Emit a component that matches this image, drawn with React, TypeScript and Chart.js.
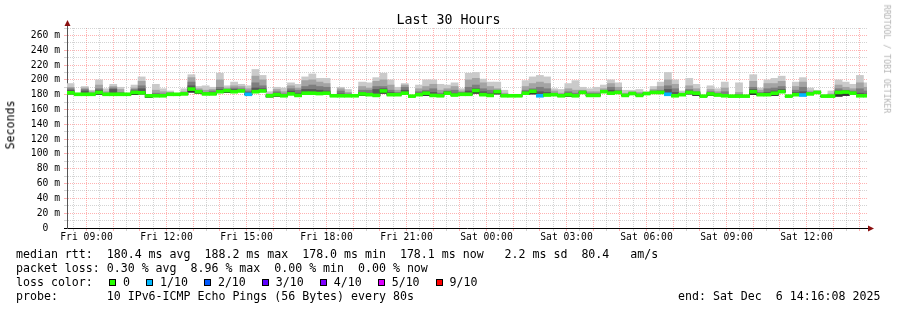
import React, { useEffect, useRef } from 'react';
import { Chart, registerables } from 'chart.js';

Chart.register(...registerables);

// ---- time frame: 30 hours ending Sat Dec 6 14:16:08 2025 ----
const startClockHours = 8 + 16 / 60 + 8 / 3600; // Fri 08:16:08
const spanHours = 30;
const stepSeconds = 960;

// ---- RTT values per 960 s step (ms) ----
const rttMax = [
  195, 182, 191, 186, 200, 188, 194, 190, 182, 193,
  204, 180, 194, 188, 185, 181, 188, 207, 191, 192,
  190, 209, 192, 197, 194, 192, 214, 206, 184, 190,
  189, 196, 194, 204, 208, 202, 202, 179, 190, 187,
  179, 197, 196, 203, 209, 200, 190, 195, 178.5, 193,
  200, 200, 194, 193, 196, 188, 209, 210, 201, 197,
  197, 186, 179, 179, 199, 204, 206, 204, 188, 187,
  195, 199, 190, 188, 190, 193, 200, 196, 186, 186,
  187, 184, 191, 197, 210, 200, 185, 202, 194, 178.5,
  192, 188, 197, 178.5, 196, 178.5, 207, 189, 200, 202,
  205, 178.5, 197, 203, 189, 186, 180, 185, 200, 197,
  194, 206, 196,
];
const rttP9 = [
  190, 181.5, 189, 184, 193, 184, 191, 187, 181, 189,
  198, 179.5, 186, 184, 183, 181, 184, 203, 188, 186,
  187, 200, 189, 192, 191, 188, 205, 200, 181, 187,
  184, 192, 189, 199, 200, 197, 195, 179, 188, 183,
  178.5, 191, 189, 198, 200, 193, 186, 193, 178, 188,
  191, 194, 186, 188, 191, 185, 200, 202, 196, 191,
  188, 182, 178.5, 178.5, 191, 195, 197, 195, 185, 182,
  188, 186, 186, 184, 184, 188, 195, 190, 182, 184,
  183, 183, 187, 191, 200, 194, 182, 192, 188, 178,
  187, 184, 189, 178, 183, 178, 198, 186, 195, 195,
  198, 178, 191, 197, 185, 184, 179, 181, 193, 190,
  188, 196, 190,
];
const rttP8 = [
  188, 181, 187, 182, 188, 182, 189, 183, 181, 187,
  192, 179, 182, 181, 182, 181, 182, 197, 186, 183,
  185, 190, 187, 189, 188, 185, 196, 192, 180, 184,
  181, 188, 186, 191, 193, 191, 190, 178.5, 185, 181,
  178.5, 186, 186, 191, 191, 186, 183, 190, 178, 184,
  186, 188, 182, 185, 186, 183, 190, 193, 188, 186,
  186, 180, 178.5, 178.5, 186, 188, 190, 188, 182, 180,
  184, 182, 185, 182, 182, 185, 190, 186, 180, 183,
  181, 182.5, 185, 186, 192, 188, 181, 187, 184, 178,
  184, 182, 184, 178, 180, 178, 190, 183, 188, 189,
  191, 178, 186, 190, 183, 183.5, 178.5, 179, 188, 186,
  185, 188, 185,
];
const rttP7 = [
  186, 181, 185, 181, 186, 181, 187, 181, 181, 185,
  188, 179, 180, 180, 181, 181, 181, 192, 185, 182,
  183, 187, 186, 187, 186, 183, 189, 188, 179, 182,
  180, 185, 182, 187, 187, 186, 185, 178.5, 181, 179,
  178.5, 183, 182, 187, 188, 183, 181, 186, 178, 182,
  184, 183, 180, 184, 182, 182, 185, 188, 184, 182,
  185, 179, 178.5, 178.5, 184, 186, 184, 183, 181, 179,
  182, 180, 184, 180, 180, 184.5, 186, 184, 179.5, 182,
  180, 182, 184, 184, 187, 183, 180.5, 185, 183, 178,
  182, 180, 180, 178, 179, 178, 187, 181, 183, 185,
  187, 178, 183, 184, 182, 183, 178.5, 178.5, 185, 185,
  183, 182, 181,
];
const rttMedian = [
  182.5, 180.5, 180.5, 180.5, 183, 180.5, 180.5, 180.5, 180.5, 183,
  182.5, 178.5, 178.5, 178.5, 180.5, 180.5, 181, 187.5, 184, 181,
  181, 184, 185.5, 184, 185, 180.5, 184, 185, 178.5, 180,
  178.5, 181, 179, 182, 182, 181.5, 182, 178.5, 178.5, 178.5,
  178.5, 181, 180, 179, 185, 180, 180, 182, 178, 180,
  182, 179, 178.5, 182, 179.5, 180.5, 180.5, 185.5, 180, 179,
  184, 178.5, 178.5, 178.5, 182, 184.5, 178.5, 179.5, 180, 178.5,
  180, 178.5, 183, 179, 179, 184, 182, 183, 179, 181.5,
  179, 181.5, 183, 183, 180.5, 178.5, 180, 183, 182, 178,
  181, 179.5, 178.5, 178, 178, 178, 184, 180, 180, 182,
  184, 178, 180, 179.5, 181, 183, 178, 178, 183, 183.5,
  182, 178.5, 178.5,
];
const rttMin = [
  181, 180, 180, 180, 180.5, 180, 180, 180, 180, 180,
  181, 176.5, 178, 178, 179, 180, 180.5, 183.5, 182, 180.5,
  180.5, 183, 183, 183, 184, 180, 183, 184, 177, 178,
  178, 180, 178.5, 181, 181, 181, 181.5, 178, 178, 178,
  178, 179, 179.5, 178.5, 182, 179.5, 179.5, 181, 177.5, 179.5,
  179, 178.5, 178, 181, 179, 180, 180, 182, 179.5, 178.5,
  181, 178, 178, 178, 180, 181, 178, 179, 179.5, 178,
  178, 178, 182.5, 178.5, 178.5, 183.5, 181.5, 182.5, 178.5, 181,
  178.5, 181, 182.5, 182.5, 180, 178, 179.5, 181, 179, 177.5,
  179, 179, 178, 177.5, 177.5, 177.5, 180, 179.5, 179.5, 179,
  183.5, 177.5, 179, 179, 180.5, 182.5, 177.5, 177.5, 178, 179,
  181.5, 178, 178,
];
// lost pings out of 10 per step
const lossTenths = [
  0, 0, 0, 0, 0, 0, 0, 0, 0, 0,
  0, 0, 0, 0, 0, 0, 0, 0, 0, 0,
  0, 0, 0, 0, 0, 1, 0, 0, 0, 0,
  0, 0, 0, 0, 0, 0, 0, 0, 0, 0,
  0, 0, 0, 0, 0, 0, 0, 0, 0, 0,
  0, 0, 0, 0, 0, 0, 0, 0, 0, 0,
  0, 0, 0, 0, 0, 0, 1, 0, 0, 0,
  0, 0, 0, 0, 0, 0, 0, 0, 0, 0,
  0, 0, 0, 0, 1, 0, 0, 0, 0, 0,
  0, 0, 0, 0, 0, 0, 0, 0, 0, 0,
  0, 0, 0, 1, 0, 0, 0, 0, 0, 0,
  0, 0, 0,
];

// ---- legend / axis labels ----
const lossLegendLabels = ['0', '1/10', '2/10', '3/10', '4/10', '5/10', '9/10'];
const lossLegendValues = [0, 1, 2, 3, 4, 5, 9];
const lossColors: Record<number, string> = {
  0: '#26ff00', 1: '#00b8ff', 2: '#0059ff', 3: '#5e00ff', 4: '#7e00ff', 5: '#dd00ff', 9: '#ff0000',
};
const xLabelClockHours = [9, 12, 15, 18, 21, 24, 27, 30, 33, 36];
const xLabelTexts = ['Fri 09:00', 'Fri 12:00', 'Fri 15:00', 'Fri 18:00', 'Fri 21:00', 'Sat 00:00', 'Sat 03:00', 'Sat 06:00', 'Sat 09:00', 'Sat 12:00'];
const yMax = 270;
const yGridStep = 10;
const yLabelStep = 20;

const statsLine1 = 'median rtt:  180.4 ms avg  188.2 ms max  178.0 ms min  178.1 ms now   2.2 ms sd  80.4   am/s';
const statsLine2 = 'packet loss: 0.30 % avg  8.96 % max  0.00 % min  0.00 % now';
const probeLine = 'probe:       10 IPv6-ICMP Echo Pings (56 Bytes) every 80s';
const endLine = 'end: Sat Dec  6 14:16:08 2025';

const MONO = "'DejaVu Sans Mono', monospace";
const GREY = 'rgba(140,140,140,0.38)';
const RED = 'rgba(255,0,0,0.3)';
const MEDIAN_HALF = 2; // half thickness of the median band, ms

const stepHours = stepSeconds / 3600;
const xOf = (i: number) => (i + 0.5) * stepHours;

const xGridValues: number[] = [];
for (let c = Math.ceil(startClockHours * 2) / 2; c <= startClockHours + spanHours; c += 0.5) {
  xGridValues.push(c - startClockHours);
}
const yGridValues: number[] = [];
for (let v = 0; v <= yMax; v += yGridStep) yGridValues.push(v);

const isHour = (value: number) => {
  const c = value + startClockHours;
  return Math.abs(c - Math.round(c)) < 1e-6;
};

// drawing order: a higher "order" is painted first (underneath)
function band(top: number[], color: string, order: number) {
  return {
    label: color,
    order,
    data: top.map((v, i) => ({ x: xOf(i), y: [rttMin[i], v] })),
    backgroundColor: color,
  };
}

const arrowsPlugin = {
  id: 'arrows',
  afterDraw(chart: any) {
    const { ctx, chartArea } = chart;
    const { left, top, right, bottom } = chartArea;
    ctx.save();
    ctx.lineWidth = 1;
    ctx.strokeStyle = '#555';
    ctx.beginPath();
    ctx.moveTo(Math.round(left) + 0.5, top + 1);
    ctx.lineTo(Math.round(left) + 0.5, top - 3);
    ctx.stroke();
    ctx.strokeStyle = '#000';
    ctx.beginPath();
    ctx.moveTo(right - 1, Math.round(bottom) + 0.5);
    ctx.lineTo(right + 2, Math.round(bottom) + 0.5);
    ctx.stroke();
    ctx.fillStyle = '#8b1010';
    const ax = Math.round(left) + 0.5;
    ctx.beginPath();
    ctx.moveTo(ax - 3, top - 2);
    ctx.lineTo(ax + 3, top - 2);
    ctx.lineTo(ax, top - 8);
    ctx.closePath();
    ctx.fill();
    const ay = Math.round(bottom) + 0.5;
    ctx.beginPath();
    ctx.moveTo(right + 1, ay - 3);
    ctx.lineTo(right + 1, ay + 3);
    ctx.lineTo(right + 7, ay);
    ctx.closePath();
    ctx.fill();
    ctx.restore();
  },
};

export default function App() {
  const ref = useRef<HTMLCanvasElement>(null);

  useEffect(() => {
    const datasets: any[] = [
      band(rttMax, '#cacaca', 5),
      band(rttP9, '#a4a4a4', 4),
      band(rttP8, '#7e7e7e', 3),
      band(rttP7, '#585858', 2),
      band(rttMedian, '#323232', 1),
      {
        label: 'median',
        order: 0,
        data: rttMedian.map((v, i) => ({ x: xOf(i), y: [v - MEDIAN_HALF, v + MEDIAN_HALF] })),
        backgroundColor: lossTenths.map((l) => lossColors[l] ?? '#ff0000'),
      },
    ];

    const chart = new Chart(ref.current as HTMLCanvasElement, {
      type: 'bar',
      data: { datasets },
      options: {
        animation: false,
        responsive: false,
        devicePixelRatio: 1,
        events: [],
        layout: { padding: { left: 0, top: 28, right: 30, bottom: 0 } },
        plugins: { legend: { display: false }, tooltip: { enabled: false }, title: { display: false } },
        datasets: {
          bar: { grouped: false, barPercentage: 1, categoryPercentage: 1, borderWidth: 0 },
        },
        scales: {
          x: {
            type: 'linear',
            min: 0,
            max: spanHours,
            offset: false,
            z: 1,
            afterFit: (s: any) => { s.height = 82; },
            afterBuildTicks: (s: any) => { s.ticks = xGridValues.map((v) => ({ value: v })); },
            grid: {
              offset: false,
              lineWidth: 1,
              color: (c: any) => (c.tick && isHour(c.tick.value) ? RED : GREY),
              tickColor: (c: any) => (c.tick && isHour(c.tick.value) ? RED : GREY),
              tickLength: 3,
            },
            border: { display: true, color: '#000', width: 1, dash: [1, 1] },
            ticks: {
              autoSkip: false,
              maxRotation: 0,
              minRotation: 0,
              padding: 1,
              color: '#000',
              font: { family: MONO, size: 9.7 },
              callback: (value: any) => {
                const c = Number(value) + startClockHours;
                const k = xLabelClockHours.findIndex((h) => Math.abs(h - c) < 1e-6);
                return k >= 0 ? xLabelTexts[k] : '';
              },
            },
          },
          y: {
            type: 'linear',
            min: 0,
            max: yMax,
            z: 1,
            afterFit: (s: any) => { s.width = 67; },
            afterBuildTicks: (s: any) => { s.ticks = yGridValues.map((v) => ({ value: v })); },
            grid: {
              lineWidth: 1,
              color: (c: any) => {
                const v = c.tick ? c.tick.value : -1;
                if (v === 0) return 'rgba(0,0,0,0)';
                return v % yLabelStep === 0 ? RED : GREY;
              },
              tickColor: (c: any) => {
                const v = c.tick ? c.tick.value : -1;
                if (v === 0) return '#000';
                return v % yLabelStep === 0 ? RED : GREY;
              },
              tickLength: 3,
            },
            border: { display: true, color: '#555', width: 1, dash: [1, 1] },
            ticks: {
              autoSkip: false,
              padding: 4,
              color: '#000',
              font: { family: MONO, size: 9.7 },
              callback: (value: any) => {
                const v = Number(value);
                if (v % yLabelStep !== 0) return '';
                return v === 0 ? '0  ' : `${v} m`;
              },
            },
          },
        },
      } as any,
      plugins: [arrowsPlugin],
    });
    return () => chart.destroy();
  }, []);

  const row = (top: number): React.CSSProperties => ({
    position: 'absolute', left: 16, top, fontSize: 11.6, lineHeight: '14px', whiteSpace: 'pre',
  });

  return (
    <div style={{ position: 'absolute', left: 0, top: 0, width: 897, height: 310, background: '#fff', fontFamily: MONO, color: '#000', overflow: 'hidden' }}>
      <canvas ref={ref} width={897} height={310} style={{ position: 'absolute', left: 0, top: 0, width: 897, height: 310 }} />
      <div style={{ position: 'absolute', left: 0, top: 12, width: 897, textAlign: 'center', fontSize: 13.3, lineHeight: '16px', whiteSpace: 'pre' }}>Last 30 Hours</div>
      <div style={{ position: 'absolute', left: 10.5, top: 125, fontSize: 11.6, lineHeight: 1, whiteSpace: 'pre', transform: 'translate(-50%,-50%) rotate(-90deg)' }}>Seconds</div>
      <div style={{ position: 'absolute', left: 887, top: 59, fontSize: 8.2, lineHeight: 1, whiteSpace: 'pre', color: '#b4b4b4', transform: 'translate(-50%,-50%) rotate(90deg)' }}>RRDTOOL / TOBI OETIKER</div>
      <div style={row(247.3)}>{statsLine1}</div>
      <div style={row(261.3)}>{statsLine2}</div>
      <div style={row(275)}>loss color:</div>
      <div style={{ position: 'absolute', left: 109, top: 275, height: 14, display: 'flex', alignItems: 'center', fontSize: 11.6, lineHeight: '14px', whiteSpace: 'pre' }}>
        {lossLegendLabels.map((lab, i) => (
          <span key={lab} style={{ display: 'flex', alignItems: 'center', marginRight: 16 }}>
            <span style={{ display: 'inline-block', width: 5, height: 5, border: '1px solid #000', background: lossColors[lossLegendValues[i]], marginRight: 7 }} />
            <span>{lab}</span>
          </span>
        ))}
      </div>
      <div style={row(289)}>{probeLine}</div>
      <div style={{ ...row(289), left: 678 }}>{endLine}</div>
    </div>
  );
}
